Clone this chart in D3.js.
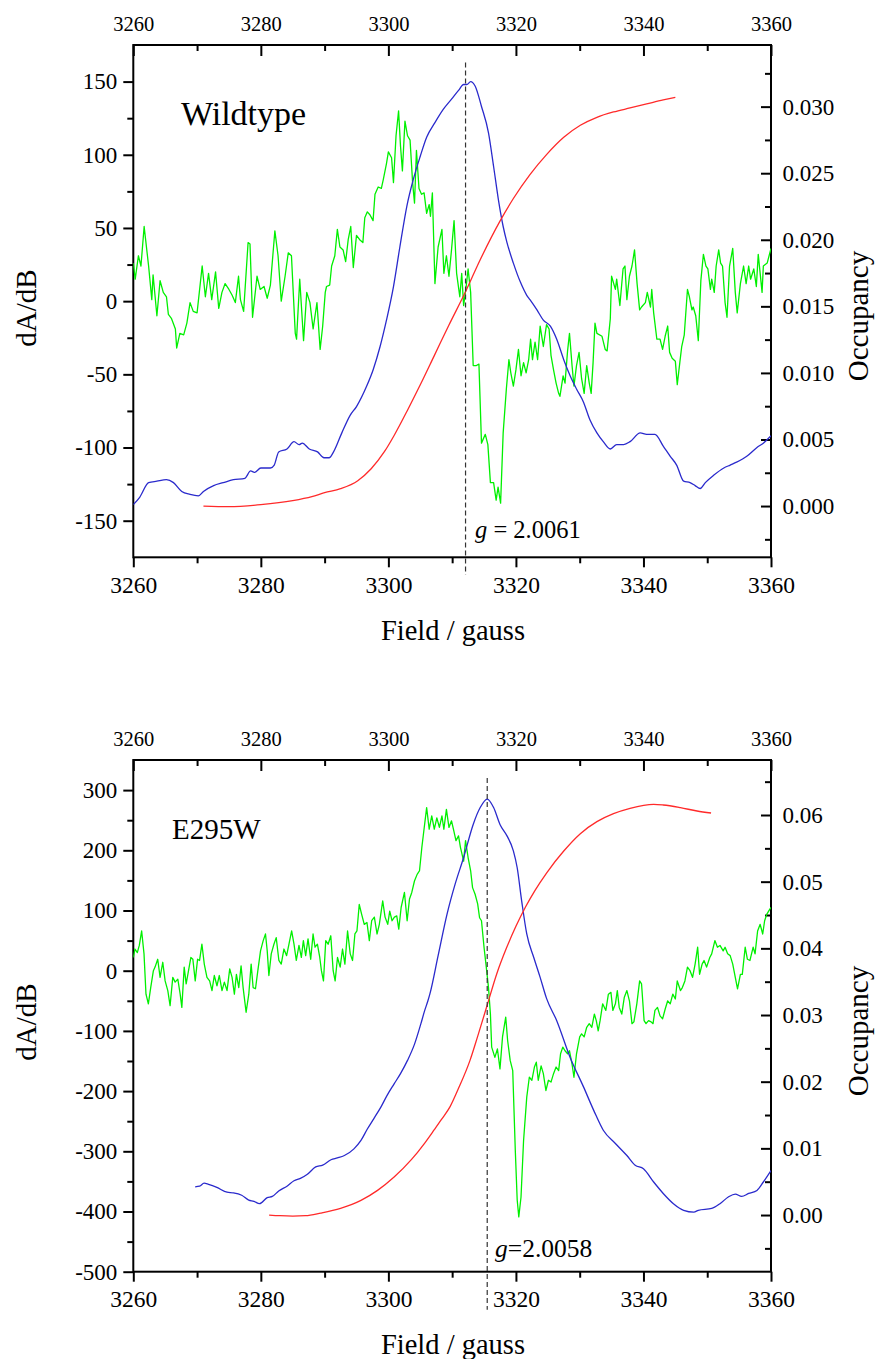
<!DOCTYPE html>
<html>
<head>
<meta charset="utf-8">
<script src="https://cdn.jsdelivr.net/npm/d3@7/dist/d3.min.js"></script>
<style>
  html, body { margin: 0; padding: 0; background: #fff; }
  svg { display: block; }
  svg text { font-family: "Liberation Serif", "Times New Roman", Times, serif !important; fill: #000; }
</style>
</head>
<body>
<svg id="chart" width="878" height="1359"></svg>
<script>
// ---------------- DATA ----------------
const FIELD_TICKS = [3260, 3280, 3300, 3320, 3340, 3360];
const FIELD_MINOR = [3270, 3290, 3310, 3330, 3350];

const WT_LEFT_TICKS = [-150, -100, -50, 0, 50, 100, 150];
const WT_LEFT_MINOR = [-125, -75, -25, 25, 75, 125];
const WT_RIGHT_TICKS = [0, 0.005, 0.010, 0.015, 0.020, 0.025, 0.030];
const WT_RIGHT_MINOR = [-0.0025, 0.0025, 0.0075, 0.0125, 0.0175, 0.0225, 0.0275, 0.0325];

const E_LEFT_TICKS = [-500, -400, -300, -200, -100, 0, 100, 200, 300];
const E_LEFT_MINOR = [-450, -350, -250, -150, -50, 50, 150, 250];
const E_RIGHT_TICKS = [0, 0.01, 0.02, 0.03, 0.04, 0.05, 0.06];
const E_RIGHT_MINOR = [-0.005, 0.005, 0.015, 0.025, 0.035, 0.045, 0.055, 0.065];

// Wildtype: dA/dB (green), absorption (blue, left axis), occupancy (red, right axis)
const WT_GREEN = [
 [3260.0,26],[3260.3,15],[3260.8,31],[3261.2,24],[3261.7,51],[3262.4,24],[3262.9,1],[3263.1,18],
 [3263.7,-10],[3264.2,14],[3264.7,6],[3265.2,3],[3265.5,-9],[3266.0,-12],[3266.6,-19],[3266.8,-32],
 [3267.3,-22],[3267.9,-23],[3268.4,-15],[3268.9,-1],[3269.4,-7],[3270.0,-8],[3270.8,24],[3271.3,3],
 [3271.8,19],[3272.3,1],[3272.9,20],[3273.4,-5],[3273.9,6],[3274.4,12],[3275.0,8],[3275.5,4],
 [3276.0,-1],[3276.5,17],[3276.8,1],[3277.3,-7],[3278.0,40],[3278.3,39],[3278.7,-11],[3279.4,17],
 [3279.9,8],[3280.5,10],[3281.0,2],[3281.5,11],[3282.2,48],[3282.7,31],[3283.2,0],[3283.8,17],
 [3284.3,33],[3284.8,31],[3285.4,-22],[3285.6,-26],[3286.1,15],[3286.7,-27],[3287.2,6],[3287.7,-1],
 [3288.2,-19],[3288.8,-1],[3289.3,-33],[3289.7,-17],[3290.1,6],[3290.3,10],[3290.8,11],[3291.1,24],
 [3291.6,31],[3292.0,49],[3292.4,37],[3292.9,35],[3293.3,27],[3293.7,42],[3294.1,51],[3294.5,23],
 [3295.0,45],[3295.5,42],[3296.0,40],[3296.3,57],[3296.7,61],[3297.1,59],[3297.6,55],[3297.9,73],
 [3298.4,78],[3298.9,77],[3299.2,83],[3299.7,94],[3300.0,102],[3300.5,98],[3300.8,81],[3301.2,113],
 [3301.6,130],[3301.9,106],[3302.2,89],[3302.6,123],[3303.0,113],[3303.4,110],[3303.8,81],[3304.1,67],
 [3304.4,103],[3304.8,77],[3305.2,73],[3305.6,74],[3306.0,60],[3306.4,66],[3306.6,58],[3306.9,74],
 [3307.3,12],[3307.8,37],[3308.4,49],[3308.7,19],[3309.1,31],[3309.5,17],[3309.9,35],[3310.3,55],
 [3310.7,19],[3311.2,3],[3311.5,19],[3311.8,-3],[3312.2,10],[3312.5,22],[3312.9,6],[3313.3,-44],
 [3313.8,-44],[3314.2,-43],[3314.6,-97],[3315.2,-91],[3315.6,-98],[3316.0,-124],[3316.5,-124],[3316.9,-136],
 [3317.2,-127],[3317.6,-138],[3318.0,-90],[3318.5,-60],[3318.9,-40],[3319.2,-49],[3319.6,-58],[3320.0,-47],
 [3320.4,-33],[3320.8,-51],[3321.2,-42],[3321.6,-49],[3322.0,-40],[3322.3,-26],[3322.6,-40],[3323.0,-28],
 [3323.4,-40],[3323.8,-17],[3324.3,-31],[3324.8,-16],[3325.2,-19],[3325.5,-37],[3325.9,-47],[3326.3,-56],
 [3326.7,-63],[3326.9,-65],[3327.4,-51],[3327.7,-56],[3328.1,-34],[3328.4,-22],[3328.8,-44],[3329.1,-58],
 [3329.5,-44],[3329.9,-35],[3330.3,-53],[3330.7,-63],[3331.1,-44],[3331.5,-56],[3331.8,-63],[3332.1,-42],
 [3332.4,-15],[3332.7,-22],[3333.5,-24],[3334.0,-33],[3334.3,-34],[3334.8,-12],[3335.0,17],[3335.6,8],
 [3335.8,15],[3336.3,-3],[3336.8,22],[3337.1,24],[3337.4,1],[3337.8,17],[3338.2,24],[3338.6,35],
 [3339.0,12],[3339.4,-6],[3339.7,-4],[3340.3,-1],[3340.6,6],[3341.1,-4],[3341.3,8],[3341.6,-8],
 [3342.1,-26],[3342.6,-26],[3343.0,-33],[3343.4,-24],[3343.8,-17],[3344.1,-35],[3344.5,-39],[3345.0,-41],
 [3345.3,-57],[3345.7,-42],[3346.0,-31],[3346.4,-23],[3346.9,8],[3347.2,3],[3347.6,-6],[3347.8,-4],
 [3348.2,-10],[3348.6,-27],[3349.0,14],[3349.4,32],[3349.8,24],[3350.1,22],[3350.5,8],[3350.7,15],
 [3351.1,6],[3351.4,24],[3351.8,35],[3352.1,26],[3352.4,24],[3352.8,-1],[3353.1,-11],[3353.5,24],
 [3354.0,36],[3354.4,6],[3354.7,-8],[3355.2,12],[3355.7,24],[3356.1,12],[3356.5,24],[3356.8,15],
 [3357.3,22],[3357.7,10],[3358.0,32],[3358.6,6],[3358.8,24],[3359.4,26],[3360.0,36]
];
const WT_BLUE = [
 [3260.0,-139],[3261.0,-134],[3262.4,-124],[3263.7,-123],[3265.2,-122],[3266.3,-124],[3267.6,-130],
 [3268.9,-132],[3270.2,-133],[3271.0,-130],[3272.6,-126],[3274.1,-124],[3275.7,-122],[3277.5,-121],
 [3278.4,-116],[3279.0,-117],[3280.0,-114],[3281.5,-114],[3282.1,-112],[3282.8,-103],[3284.1,-101],
 [3285.2,-96],[3286.0,-98],[3286.5,-97],[3287.6,-101],[3288.9,-103],[3289.9,-107],[3290.7,-107],
 [3291.4,-103],[3292.7,-90],[3294.0,-78],[3295.0,-72],[3296.6,-58],[3297.6,-47],[3298.7,-31],
 [3299.7,-13],[3300.8,10],[3301.8,37],[3302.9,65],[3303.9,83],[3305.0,99],[3306.0,112],[3307.3,122],
 [3308.6,131],[3309.9,138],[3311.0,144],[3311.8,148],[3312.3,148],[3312.9,150],[3313.6,147],
 [3314.6,133],[3315.7,115],[3316.5,92],[3317.3,68],[3318.0,51],[3318.6,40],[3319.6,26],[3320.7,13],
 [3321.7,4],[3322.2,1],[3323.3,-6],[3324.3,-13],[3325.4,-17],[3326.4,-26],[3327.5,-40],[3328.5,-51],
 [3329.5,-60],[3330.6,-69],[3331.6,-81],[3332.7,-90],[3333.7,-96],[3334.8,-101],[3335.8,-98],
 [3336.9,-98],[3337.9,-96],[3339.5,-90],[3340.5,-91],[3341.8,-91],[3343.1,-99],[3344.2,-106],
 [3345.2,-112],[3346.3,-123],[3347.3,-124],[3348.1,-126],[3348.9,-128],[3349.7,-124],[3351.0,-119],
 [3352.6,-114],[3353.6,-112],[3354.6,-110],[3356.2,-106],[3357.8,-100],[3358.8,-97],[3360.0,-92]
];
const WT_RED = [
 [3271,0.0000],[3275,-0.00005],[3280,0.0001],[3285,0.0004],[3288,0.0007],[3290,0.0010],[3292.5,0.0013],
 [3295.2,0.0019],[3297.3,0.0028],[3299.4,0.0041],[3300.9,0.0053],[3303,0.0072],[3305.1,0.0092],
 [3307.2,0.0113],[3309.5,0.0136],[3312,0.0160],[3314.4,0.0185],[3317.5,0.0214],[3319.6,0.0231],
 [3322.2,0.0249],[3324.8,0.0264],[3327.5,0.0277],[3330.1,0.0286],[3332.7,0.0292],[3335.3,0.0296],
 [3337.9,0.0299],[3340.5,0.0302],[3343.1,0.0305],[3345,0.0307]
];

// E295W
const E_GREEN = [
 [3260.0,22],[3260.26,36],[3260.63,30],[3260.94,42],[3261.31,66],[3261.68,28],[3261.99,-39],[3262.36,-55],
 [3262.73,-28],[3263.15,0],[3263.41,6],[3263.83,19],[3264.2,-11],[3264.62,14],[3264.99,-17],[3265.41,-33],
 [3265.77,-58],[3266.19,-11],[3266.56,-19],[3266.98,-14],[3267.35,-39],[3267.61,-61],[3267.98,6],[3268.29,-22],
 [3268.66,0],[3269.03,22],[3269.34,19],[3269.71,-17],[3270.08,19],[3270.39,17],[3270.76,44],[3271.13,11],
 [3271.55,-11],[3271.97,-17],[3272.34,-33],[3272.7,-8],[3273.12,-25],[3273.49,-8],[3273.91,-33],[3274.28,-19],
 [3274.7,-33],[3275.12,3],[3275.49,-11],[3275.85,-39],[3276.17,-6],[3276.54,-28],[3276.9,8],[3277.22,-28],
 [3277.69,-69],[3278.11,-39],[3278.48,11],[3278.79,-28],[3279.16,-30],[3279.53,0],[3279.95,33],[3280.37,50],
 [3280.73,61],[3281.0,33],[3281.26,-8],[3281.63,28],[3282.05,44],[3282.41,55],[3282.83,17],[3283.2,11],
 [3283.62,36],[3284.04,25],[3284.41,44],[3284.83,66],[3285.2,44],[3285.56,17],[3285.98,42],[3286.35,22],
 [3286.67,50],[3287.03,25],[3287.4,53],[3287.82,19],[3288.19,61],[3288.5,39],[3288.87,44],[3289.24,22],
 [3289.5,0],[3289.82,-17],[3290.18,50],[3290.55,44],[3290.97,58],[3291.34,0],[3291.65,-17],[3292.02,22],
 [3292.44,6],[3292.81,36],[3293.18,11],[3293.6,66],[3294.02,28],[3294.38,17],[3294.75,61],[3295.07,66],
 [3295.43,110],[3295.8,94],[3296.22,77],[3296.64,80],[3297.01,50],[3297.38,83],[3297.8,89],[3298.22,61],
 [3298.58,77],[3299.11,116],[3299.48,89],[3299.9,77],[3300.21,99],[3300.58,83],[3300.94,89],[3301.31,91],
 [3301.63,69],[3302.0,105],[3302.52,130],[3302.94,83],[3303.31,119],[3303.67,130],[3304.09,149],[3304.51,160],
 [3304.88,166],[3305.25,205],[3305.5,227],[3306.0,271],[3306.4,235],[3306.8,257],[3307.2,235],[3307.6,254],
 [3308.0,238],[3308.4,257],[3308.7,235],[3309.1,268],[3309.5,238],[3309.9,249],[3310.2,235],[3310.6,216],
 [3311.0,224],[3311.3,205],[3311.8,182],[3312.1,216],[3312.5,188],[3312.9,166],[3313.2,138],[3313.6,127],
 [3314.0,111],[3314.3,88],[3314.6,83],[3315.0,39],[3315.3,11],[3315.7,-28],[3316.0,-72],[3316.2,-127],
 [3316.7,-144],[3317.1,-130],[3317.5,-163],[3317.9,-110],[3318.4,-77],[3318.7,-116],[3319.1,-149],[3319.5,-166],
 [3319.9,-298],[3320.2,-381],[3320.45,-409],[3320.8,-376],[3321.2,-282],[3321.7,-210],[3322.1,-177],[3322.5,-182],
 [3322.9,-160],[3323.2,-152],[3323.5,-182],[3323.95,-158],[3324.3,-171],[3324.7,-199],[3325.1,-182],[3325.5,-185],
 [3325.9,-171],[3326.3,-160],[3326.7,-166],[3327.0,-138],[3327.35,-127],[3327.7,-133],[3328.1,-138],[3328.4,-133],
 [3328.8,-155],[3329.1,-177],[3329.5,-138],[3330.0,-110],[3330.3,-105],[3330.7,-110],[3331.1,-94],[3331.5,-88],
 [3331.9,-94],[3332.3,-72],[3332.6,-83],[3332.9,-100],[3333.2,-83],[3333.6,-55],[3334.1,-66],[3334.5,-39],
 [3334.9,-36],[3335.2,-66],[3335.6,-55],[3335.9,-33],[3336.2,-61],[3336.6,-72],[3337.0,-44],[3337.4,-33],
 [3337.8,-50],[3338.2,-88],[3338.5,-85],[3338.96,-55],[3339.4,-17],[3339.7,-22],[3340.1,-83],[3340.4,-88],
 [3340.8,-83],[3341.2,-85],[3341.5,-88],[3341.8,-66],[3342.2,-61],[3342.6,-75],[3343.0,-80],[3343.4,-64],
 [3343.8,-50],[3344.2,-55],[3344.6,-39],[3345.0,-47],[3345.3,-17],[3345.8,-33],[3346.1,-28],[3346.5,-17],
 [3346.9,6],[3347.3,0],[3347.7,-11],[3348.1,11],[3348.5,39],[3348.8,-6],[3349.2,11],[3349.5,17],
 [3349.9,6],[3350.4,22],[3350.7,28],[3351.2,50],[3351.6,39],[3352.0,42],[3352.5,33],[3352.8,39],
 [3353.2,28],[3353.6,25],[3354.0,11],[3354.4,-11],[3354.75,-30],[3355.2,-6],[3355.5,-6],[3355.95,39],
 [3356.3,19],[3356.7,17],[3357.2,39],[3357.5,28],[3357.9,66],[3358.3,77],[3358.7,61],[3359.0,83],
 [3359.35,94],[3359.8,102],[3360.0,105]
];
const E_BLUE = [
 [3269.7,-359],[3270.4,-358],[3271.1,-353],[3271.8,-355],[3273.1,-360],[3274.7,-368],[3275.7,-369],
 [3277.0,-373],[3278.1,-381],[3278.9,-383],[3279.8,-387],[3281.0,-377],[3281.8,-375],[3282.8,-366],
 [3284.1,-358],[3285.2,-349],[3286.2,-345],[3287.3,-338],[3288.6,-326],[3289.7,-323],[3291.0,-314],
 [3292.0,-311],[3293.1,-307],[3294.6,-296],[3295.7,-282],[3296.7,-263],[3297.7,-246],[3298.8,-227],
 [3299.8,-207],[3300.9,-188],[3301.9,-171],[3303.0,-149],[3304.1,-122],[3305.1,-88],[3305.7,-66],
 [3306.2,-50],[3306.5,-39],[3307.8,25],[3309.2,94],[3310.5,145],[3311.8,188],[3313.3,243],[3314.4,271],
 [3315.5,285],[3316.5,271],[3317.5,243],[3318.6,224],[3319.6,199],[3320.2,171],[3320.9,116],[3321.7,61],
 [3322.8,22],[3323.8,-11],[3324.8,-46],[3326.4,-83],[3328.5,-144],[3330.6,-193],[3332.2,-232],
 [3333.7,-265],[3335.6,-287],[3337.4,-307],[3338.7,-323],[3340.0,-329],[3341.6,-351],[3343.1,-370],
 [3344.7,-387],[3346.3,-398],[3347.9,-401],[3348.6,-398],[3350.7,-395],[3352.0,-387],[3353.3,-376],
 [3354.4,-371],[3355.4,-375],[3356.5,-370],[3357.8,-365],[3358.8,-351],[3360.0,-332]
];
const E_RED = [
 [3281.3,0.0000],[3283,-0.0001],[3285,-0.00015],[3287,-0.0001],[3289.4,0.0003],[3292.5,0.0010],
 [3295.7,0.0022],[3298.3,0.0037],[3300.9,0.0057],[3303.6,0.0083],[3305.7,0.0108],[3307.2,0.0128],
 [3308.3,0.0143],[3309.7,0.0163],[3311.0,0.0190],[3312.8,0.0232],[3314.0,0.0268],[3315.5,0.0315],
 [3317.0,0.0362],[3318.5,0.0400],[3320.0,0.0433],[3321.5,0.0462],[3323.0,0.0487],[3324.8,0.0513],
 [3327.5,0.0546],[3330.1,0.0572],[3332.7,0.0590],[3335.3,0.0602],[3337.9,0.0610],[3341.6,0.0616],
 [3343.1,0.0615],[3345.8,0.0611],[3348.4,0.0606],[3350.6,0.0603]
];

// g-marker lines: [field, top value, bottom value] in left-axis units
const WT_GMARK = [3312.1, 163, -187];
const E_GMARK = [3315.5, 320, -563];

// ---------------- DRAW ----------------
const SERIF = '"Liberation Serif", "Times New Roman", Times, serif';
const svg = d3.select("#chart");
svg.append("rect").attr("width", 878).attr("height", 1359).attr("fill", "#fff");

const COLORS = { green: "#00f000", blue: "#2a2acc", red: "#ff2a2a" };

function panel(cfg) {
  const L = 133.3, R = 771;
  const g = svg.append("g");
  const x = d3.scaleLinear().domain([3260, 3360]).range([L, R]);
  const yL = d3.scaleLinear().domain(cfg.leftDomain).range([cfg.bottom, cfg.top]);
  const yR = d3.scaleLinear().domain(cfg.rightDomain).range([cfg.bottom, cfg.top]);

  const styleAxis = (sel, size) => {
    sel.attr("font-family", null).attr("font-size", null);
    sel.select(".domain").remove();
    sel.selectAll("line").attr("stroke", "#000").attr("stroke-width", 2);
    if (size) sel.selectAll("text").style("font-family", SERIF).style("font-size", size + "px");
  };

  // bottom axis
  g.append("g").attr("transform", `translate(0,${cfg.bottom})`)
    .call(d3.axisBottom(x).tickValues(FIELD_TICKS).tickFormat(d3.format("d")).tickSize(10).tickPadding(9))
    .call(s => styleAxis(s, 23.5));
  g.append("g").attr("transform", `translate(0,${cfg.bottom})`)
    .call(d3.axisBottom(x).tickValues(FIELD_MINOR).tickFormat("").tickSize(6))
    .call(s => styleAxis(s));

  // top axis (ticks inward)
  g.append("g").attr("transform", `translate(0,${cfg.top})`)
    .call(d3.axisTop(x).tickValues(FIELD_TICKS).tickFormat(d3.format("d")).tickSize(-11).tickPadding(14))
    .call(s => styleAxis(s, 20.5));
  g.append("g").attr("transform", `translate(0,${cfg.top})`)
    .call(d3.axisTop(x).tickValues(FIELD_MINOR).tickFormat("").tickSize(-6))
    .call(s => styleAxis(s));

  // left axis
  g.append("g").attr("transform", `translate(${L},0)`)
    .call(d3.axisLeft(yL).tickValues(cfg.leftTicks).tickFormat(d => String(d)).tickSize(10).tickPadding(6))
    .call(s => styleAxis(s, 23));
  g.append("g").attr("transform", `translate(${L},0)`)
    .call(d3.axisLeft(yL).tickValues(cfg.leftMinor).tickFormat("").tickSize(6))
    .call(s => styleAxis(s));

  // right axis (ticks inward)
  g.append("g").attr("transform", `translate(${R},0)`)
    .call(d3.axisRight(yR).tickValues(cfg.rightTicks).tickFormat(d3.format(cfg.rightFmt)).tickSize(-10).tickPadding(11.5))
    .call(s => styleAxis(s, 23));
  g.append("g").attr("transform", `translate(${R},0)`)
    .call(d3.axisRight(yR).tickValues(cfg.rightMinor).tickFormat("").tickSize(-6))
    .call(s => styleAxis(s));

  // frame
  g.append("rect").attr("x", L).attr("y", cfg.top).attr("width", R - L).attr("height", cfg.bottom - cfg.top)
    .attr("fill", "none").attr("stroke", "#000").attr("stroke-width", 2);

  // series
  const clipId = "clip" + cfg.id;
  svg.append("clipPath").attr("id", clipId).append("rect")
    .attr("x", L).attr("y", cfg.top).attr("width", R - L).attr("height", cfg.bottom - cfg.top);
  const plot = g.append("g").attr("clip-path", `url(#${clipId})`);

  const lineL = d3.line().x(d => x(d[0])).y(d => yL(d[1]));
  const lineLs = d3.line().x(d => x(d[0])).y(d => yL(d[1])).curve(d3.curveMonotoneX);
  const lineR = d3.line().x(d => x(d[0])).y(d => yR(d[1])).curve(d3.curveMonotoneX);

  plot.append("path").datum(cfg.green).attr("d", lineL)
    .attr("fill", "none").attr("stroke", COLORS.green).attr("stroke-width", 1.3).attr("stroke-linejoin", "round");
  plot.append("path").datum(cfg.blue).attr("d", lineLs)
    .attr("fill", "none").attr("stroke", COLORS.blue).attr("stroke-width", 1.3);
  plot.append("path").datum(cfg.red).attr("d", lineR)
    .attr("fill", "none").attr("stroke", COLORS.red).attr("stroke-width", 1.3);

  // g marker
  g.append("line")
    .attr("x1", x(cfg.gmark[0])).attr("x2", x(cfg.gmark[0]))
    .attr("y1", yL(cfg.gmark[1])).attr("y2", yL(cfg.gmark[2]))
    .attr("stroke", "#333").attr("stroke-width", 1.2).attr("stroke-dasharray", "5,3");

  // labels
  const txt = (sel, size) => sel.style("font-family", SERIF).style("font-size", size + "px");
  g.append("text").attr("x", cfg.nameX).attr("y", cfg.nameY).call(txt, cfg.nameSize).text(cfg.name);

  const gt = g.append("text").attr("x", cfg.gX).attr("y", cfg.gY).call(txt, cfg.gSize);
  gt.append("tspan").style("font-style", "italic").text("g");
  gt.append("tspan").text(cfg.gText);

  g.append("text").attr("x", 453).attr("y", cfg.xTitleY).attr("text-anchor", "middle")
    .call(txt, 28.5).text("Field / gauss");
  g.append("text").attr("transform", `translate(36,${cfg.leftTitleY}) rotate(-90)`)
    .attr("text-anchor", "middle").call(txt, 29).text("dA/dB");
  g.append("text").attr("transform", `translate(868,${cfg.rightTitleY}) rotate(-90)`)
    .attr("text-anchor", "middle").call(txt, 29).text("Occupancy");
}

panel({
  id: "wt", top: 45, bottom: 557.3,
  leftDomain: [-175, 175], rightDomain: [-0.00385, 0.03463],
  leftTicks: WT_LEFT_TICKS, leftMinor: WT_LEFT_MINOR,
  rightTicks: WT_RIGHT_TICKS, rightMinor: WT_RIGHT_MINOR, rightFmt: ".3f",
  green: WT_GREEN, blue: WT_BLUE, red: WT_RED, gmark: WT_GMARK,
  name: "Wildtype", nameX: 181, nameY: 125, nameSize: 34,
  gText: " = 2.0061", gX: 475, gY: 538, gSize: 24.5,
  xTitleY: 640, leftTitleY: 308, rightTitleY: 316
});

panel({
  id: "e", top: 760, bottom: 1271.7,
  leftDomain: [-500, 350], rightDomain: [-0.0085, 0.06825],
  leftTicks: E_LEFT_TICKS, leftMinor: E_LEFT_MINOR,
  rightTicks: E_RIGHT_TICKS, rightMinor: E_RIGHT_MINOR, rightFmt: ".2f",
  green: E_GREEN, blue: E_BLUE, red: E_RED, gmark: E_GMARK,
  name: "E295W", nameX: 172, nameY: 839, nameSize: 29,
  gText: "=2.0058", gX: 495, gY: 1257, gSize: 25.5,
  xTitleY: 1354, leftTitleY: 1022, rightTitleY: 1031
});
</script>
</body>
</html>
